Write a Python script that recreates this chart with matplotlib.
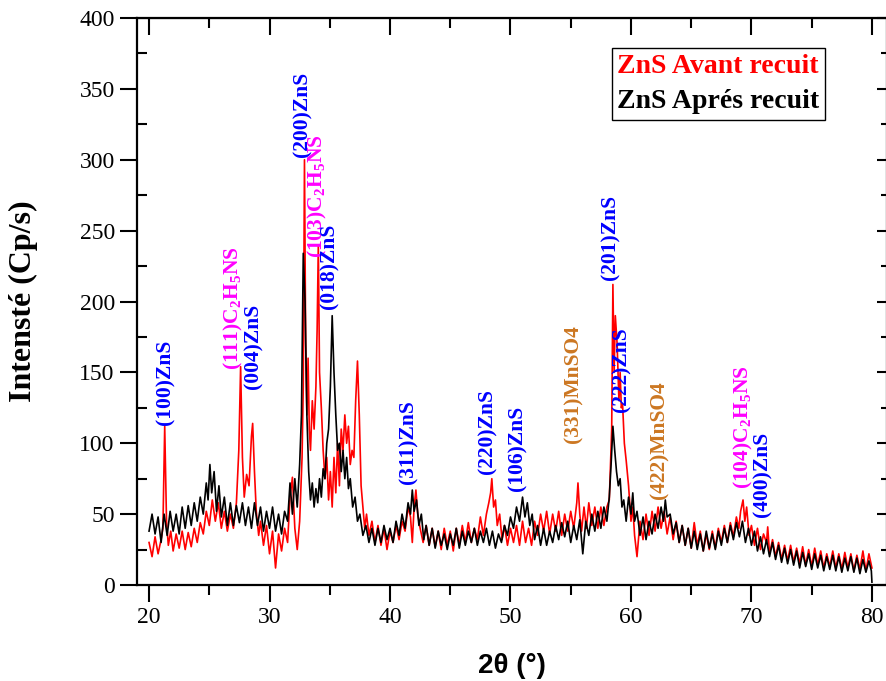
import matplotlib
matplotlib.use("Agg")
import matplotlib.pyplot as plt
from matplotlib.ticker import MultipleLocator

# ZnS avant recuit (rouge)
red_tt = [20.0, 20.25, 20.5, 20.75, 21.0, 21.15, 21.3, 21.45, 21.6, 21.8,
          22.0, 22.25, 22.5, 22.75, 23.0, 23.25, 23.5, 23.75, 24.0, 24.25,
          24.5, 24.75, 25.0, 25.25, 25.5, 25.75, 26.0, 26.25, 26.5, 26.75,
          27.0, 27.25, 27.45, 27.6, 27.75, 27.9, 28.1, 28.3, 28.5, 28.6,
          28.75, 28.9, 29.1, 29.25, 29.5, 29.75, 30.0, 30.25, 30.5, 30.75,
          31.0, 31.25, 31.5, 31.7, 31.9, 32.1, 32.3, 32.5, 32.7, 32.8,
          32.9, 33.0, 33.1, 33.2, 33.3, 33.4, 33.55, 33.7, 33.85, 33.95,
          34.05, 34.15, 34.3, 34.45, 34.6, 34.75, 34.9, 35.05, 35.2, 35.35,
          35.5, 35.65, 35.8, 35.95, 36.1, 36.25, 36.4, 36.55, 36.7, 36.85,
          37.0, 37.15, 37.3, 37.45, 37.6, 37.75, 37.9, 38.05, 38.25, 38.5,
          38.75, 39.0, 39.25, 39.5, 39.75, 40.0, 40.25, 40.5, 40.75, 41.0,
          41.25, 41.5, 41.7, 41.85, 42.0, 42.15, 42.3, 42.5, 42.75, 43.0,
          43.25, 43.5, 43.75, 44.0, 44.25, 44.5, 44.75, 45.0, 45.25, 45.5,
          45.75, 46.0, 46.25, 46.5, 46.75, 47.0, 47.25, 47.5, 47.75, 48.0,
          48.2, 48.35, 48.45, 48.6, 48.75, 48.9, 49.1, 49.3, 49.5, 49.75,
          50.0, 50.25, 50.5, 50.75, 51.0, 51.25, 51.5, 51.75, 52.0, 52.25,
          52.5, 52.75, 53.0, 53.25, 53.5, 53.75, 54.0, 54.25, 54.5, 54.75,
          55.0, 55.25, 55.5, 55.6, 55.75, 55.9, 56.1, 56.3, 56.5, 56.75,
          57.0, 57.25, 57.5, 57.75, 58.0, 58.2, 58.4, 58.5, 58.6, 58.7,
          58.85, 59.0, 59.1, 59.2, 59.3, 59.45, 59.6, 59.8, 60.0, 60.15,
          60.3, 60.5, 60.75, 61.0, 61.25, 61.5, 61.75, 62.0, 62.25, 62.5,
          62.75, 63.0, 63.25, 63.5, 63.75, 64.0, 64.25, 64.5, 64.75, 65.0,
          65.25, 65.5, 65.75, 66.0, 66.25, 66.5, 66.75, 67.0, 67.25, 67.5,
          67.75, 68.0, 68.25, 68.5, 68.75, 68.95, 69.1, 69.3, 69.45, 69.6,
          69.8, 70.0, 70.25, 70.5, 70.75, 71.0, 71.25, 71.35, 71.5, 71.75,
          72.0, 72.25, 72.5, 72.75, 73.0, 73.25, 73.5, 73.75, 74.0, 74.25,
          74.5, 74.75, 75.0, 75.25, 75.5, 75.75, 76.0, 76.25, 76.5, 76.75,
          77.0, 77.25, 77.5, 77.75, 78.0, 78.25, 78.5, 78.75, 79.0, 79.25,
          79.5, 79.75, 80.0]
red_int = [30, 20, 34, 22, 32, 40, 112, 45, 28, 38,
           24, 36, 26, 38, 25, 37, 27, 40, 30, 44,
           36, 52, 42, 60, 45, 58, 40, 52, 38, 50,
           40, 58, 95, 154, 90, 62, 78, 70, 105, 114,
           80, 52, 35, 45, 28, 42, 22, 38, 12, 36,
           24, 40, 30, 62, 76, 40, 25, 45, 90, 140,
           300, 170, 120, 160, 110, 95, 130, 110, 140, 180,
           240, 150, 125, 95, 75, 90, 60, 80, 55, 90,
           65, 100, 70, 110, 95, 120, 100, 112, 85, 95,
           90, 130, 158, 120, 70, 55, 40, 50, 35, 45,
           30, 42, 28, 40, 25, 38, 30, 42, 32, 45,
           38, 55, 48, 30, 55, 67, 50, 40, 30, 42,
           28, 40, 27, 38, 25, 40, 28, 38, 24, 40,
           28, 42, 30, 44, 30, 40, 32, 48, 35, 50,
           58, 65, 75, 55, 60, 42, 50, 32, 42, 28,
           40, 30, 42, 28, 45, 30, 40, 28, 45, 35,
           50, 38, 52, 36, 50, 38, 52, 35, 50, 38,
           52, 40, 58, 72, 50, 38, 55, 40, 58, 42,
           55, 40, 55, 42, 55, 60, 110, 212, 150, 190,
           170, 130, 150, 125, 128, 100, 88, 70, 45, 55,
           35, 20, 45, 32, 50, 35, 52, 38, 55, 40,
           52, 36, 48, 32, 45, 30, 42, 28, 40, 26,
           44, 28, 38, 24, 36, 25, 38, 26, 40, 30,
           42, 30, 44, 34, 48, 40, 52, 60, 45, 55,
           35, 42, 28, 40, 25, 36, 30, 41, 22, 32,
           20, 30, 18, 28, 17, 28, 16, 26, 15, 27,
           14, 25, 13, 26, 14, 24, 12, 22, 13, 24,
           12, 22, 11, 23, 12, 22, 10, 21, 11, 24,
           10, 22, 12]

# ZnS apres recuit (noir)
blk_tt = [20.0, 20.25, 20.5, 20.75, 21.0, 21.25, 21.5, 21.75, 22.0, 22.25,
          22.5, 22.75, 23.0, 23.25, 23.5, 23.75, 24.0, 24.25, 24.5, 24.75,
          24.9, 25.05, 25.2, 25.4, 25.6, 25.8, 26.0, 26.25, 26.5, 26.75,
          27.0, 27.25, 27.5, 27.75, 28.0, 28.25, 28.5, 28.75, 29.0, 29.25,
          29.5, 29.75, 30.0, 30.25, 30.5, 30.75, 31.0, 31.25, 31.5, 31.7,
          31.9, 32.1, 32.3, 32.5, 32.65, 32.8, 32.95, 33.1, 33.25, 33.4,
          33.55, 33.7, 33.85, 34.0, 34.15, 34.3, 34.45, 34.6, 34.75, 34.9,
          35.05, 35.2, 35.35, 35.5, 35.65, 35.8, 35.95, 36.1, 36.25, 36.4,
          36.55, 36.7, 36.9, 37.1, 37.3, 37.5, 37.75, 38.0, 38.25, 38.5,
          38.75, 39.0, 39.25, 39.5, 39.75, 40.0, 40.25, 40.5, 40.75, 41.0,
          41.25, 41.5, 41.7, 41.85, 42.0, 42.2, 42.4, 42.6, 42.8, 43.0,
          43.25, 43.5, 43.75, 44.0, 44.25, 44.5, 44.75, 45.0, 45.25, 45.5,
          45.75, 46.0, 46.25, 46.5, 46.75, 47.0, 47.25, 47.5, 47.75, 48.0,
          48.25, 48.5, 48.75, 49.0, 49.25, 49.5, 49.75, 50.0, 50.25, 50.5,
          50.75, 51.0, 51.2, 51.4, 51.6, 51.8, 52.0, 52.25, 52.5, 52.75,
          53.0, 53.25, 53.5, 53.75, 54.0, 54.25, 54.5, 54.75, 55.0, 55.25,
          55.5, 55.75, 56.0, 56.25, 56.5, 56.75, 57.0, 57.25, 57.5, 57.75,
          58.0, 58.2, 58.35, 58.5, 58.65, 58.8, 58.95, 59.1, 59.25, 59.4,
          59.6, 59.8, 60.0, 60.15, 60.3, 60.5, 60.75, 61.0, 61.25, 61.5,
          61.75, 62.0, 62.25, 62.5, 62.7, 62.85, 63.0, 63.25, 63.5, 63.75,
          64.0, 64.25, 64.5, 64.75, 65.0, 65.25, 65.5, 65.75, 66.0, 66.25,
          66.5, 66.75, 67.0, 67.25, 67.5, 67.75, 68.0, 68.25, 68.5, 68.75,
          69.0, 69.25, 69.5, 69.75, 70.0, 70.25, 70.5, 70.75, 71.0, 71.25,
          71.5, 71.75, 72.0, 72.25, 72.5, 72.75, 73.0, 73.25, 73.5, 73.75,
          74.0, 74.25, 74.5, 74.75, 75.0, 75.25, 75.5, 75.75, 76.0, 76.25,
          76.5, 76.75, 77.0, 77.25, 77.5, 77.75, 78.0, 78.25, 78.5, 78.75,
          79.0, 79.25, 79.5, 79.75, 79.95, 80.0]
blk_int = [38, 50, 36, 48, 30, 50, 35, 52, 38, 50,
           36, 55, 40, 56, 42, 58, 45, 62, 50, 72,
           60, 85, 65, 80, 52, 70, 48, 62, 42, 58,
           42, 56, 44, 58, 42, 55, 40, 58, 42, 55,
           38, 52, 40, 55, 38, 50, 36, 52, 45, 72,
           50, 75, 55, 85, 120, 234, 200, 120, 80, 60,
           72, 55, 68, 58, 75, 62, 82, 75, 100, 110,
           140, 190, 150, 120, 95, 100, 80, 95, 75, 90,
           68, 75, 55, 62, 45, 50, 35, 42, 30, 40,
           28, 40, 30, 42, 32, 40, 30, 45, 35, 50,
           40, 58, 50, 67, 52, 60, 42, 50, 32, 42,
           28, 40, 26, 38, 28, 36, 25, 36, 28, 40,
           26, 38, 28, 38, 30, 40, 28, 38, 30, 40,
           28, 38, 26, 36, 30, 42, 35, 48, 40, 55,
           45, 62, 48, 58, 42, 50, 32, 42, 28, 40,
           28, 38, 30, 42, 32, 44, 34, 45, 30, 42,
           32, 46, 22, 45, 35, 50, 38, 52, 40, 55,
           45, 62, 85, 112, 95, 80, 70, 75, 55, 60,
           45, 62, 50, 65, 45, 52, 35, 48, 32, 45,
           36, 50, 40, 55, 45, 60, 48, 50, 36, 44,
           30, 42, 28, 40, 26, 38, 25, 36, 24, 38,
           26, 36, 25, 38, 28, 40, 30, 42, 32, 44,
           34, 45, 30, 40, 28, 38, 24, 34, 22, 32,
           20, 30, 18, 28, 16, 26, 15, 25, 14, 24,
           12, 23, 13, 22, 11, 22, 12, 21, 10, 20,
           11, 21, 10, 20, 9, 19, 10, 20, 9, 19,
           8, 18, 9, 17, 10, 2]

# indexation des pics : (texte, 2theta, intensite du bas du texte, couleur)
blue = '#0000FF'
mag = '#FF00FF'
orange = '#CC7722'
peak_labels = ['(100)ZnS', '(111)C$_2$H$_5$NS', '(004)ZnS', '(200)ZnS',
               '(103)C$_2$H$_5$NS', '(018)ZnS', '(311)ZnS', '(220)ZnS',
               '(106)ZnS', '(331)MnSO4', '(201)ZnS', '(222)ZnS',
               '(422)MnSO4', '(104)C$_2$H$_5$NS', '(400)ZnS']
peak_tt = [21.33, 26.97, 28.7, 32.7, 34.0, 35.0, 41.5, 48.1,
           50.6, 55.2, 58.3, 59.25, 62.4, 69.3, 70.9]
peak_y = [113, 152, 138, 302, 231, 195, 71, 78,
          66, 100, 215, 122, 61, 68, 48]
peak_col = [blue, mag, blue, blue, mag, blue, blue, blue,
            blue, orange, blue, blue, orange, mag, blue]

plt.rcParams['font.family'] = 'Liberation Serif'
plt.rcParams['mathtext.fontset'] = 'custom'
plt.rcParams['mathtext.bf'] = 'Liberation Serif:bold'
plt.rcParams['mathtext.rm'] = 'Liberation Serif:bold'
plt.rcParams['mathtext.default'] = 'bf'

fig = plt.figure(figsize=(8.86, 6.81), dpi=100)
ax = fig.add_axes([137/886, 96/681, 750/886, 567/681])

ax.plot(red_tt, red_int, color='red', lw=1.2, label='ZnS Avant recuit')
ax.plot(blk_tt, blk_int, color='black', lw=1.2, label='ZnS Aprés recuit')

for t, x, y, c in zip(peak_labels, peak_tt, peak_y, peak_col):
    ax.text(x, y, t, rotation=90, color=c, fontsize=15.5, fontweight='bold',
            ha='center', va='bottom')

ax.set_xlim(19.0, 81.25)
ax.set_ylim(0, 400)
ax.xaxis.set_major_locator(MultipleLocator(10))
ax.xaxis.set_minor_locator(MultipleLocator(5))
ax.yaxis.set_major_locator(MultipleLocator(50))
ax.yaxis.set_minor_locator(MultipleLocator(25))
ax.tick_params(axis='x', which='major', direction='out', length=12, width=1.5, labelsize=17, pad=4)
ax.tick_params(axis='x', which='minor', direction='out', length=7, width=1.5)
ax.tick_params(axis='y', which='major', direction='out', length=12, width=1.5, labelsize=17, pad=4)
ax.tick_params(axis='y', which='minor', direction='in', length=7, width=1.5)
for s in ax.spines.values():
    s.set_linewidth(1.6)

top = ax.secondary_xaxis('top')
top.xaxis.set_major_locator(MultipleLocator(10))
top.xaxis.set_minor_locator(MultipleLocator(5))
top.tick_params(which='major', direction='in', length=12, width=1.5, labeltop=False)
top.tick_params(which='minor', direction='in', length=7, width=1.5)
rgt = ax.secondary_yaxis('right')
rgt.yaxis.set_major_locator(MultipleLocator(50))
rgt.yaxis.set_minor_locator(MultipleLocator(25))
rgt.tick_params(which='major', direction='in', length=7, width=1.5, labelright=False)
rgt.tick_params(which='minor', direction='in', length=4, width=1.5)

ax.set_ylabel('Intensté (Cp/s)', fontsize=23, fontweight='bold', labelpad=30)
ax.set_xlabel('2θ (°)', fontsize=20, fontweight='bold', family='Liberation Sans', labelpad=18)

leg = ax.legend(loc='upper left', bbox_to_anchor=(0.633, 0.947), borderaxespad=0,
                handlelength=0, handletextpad=0, fancybox=False, edgecolor='black',
                framealpha=1, prop={'weight': 'bold', 'size': 20}, borderpad=0.2,
                labelspacing=0.35)
leg.get_frame().set_linewidth(1.0)
for h in leg.legend_handles:
    h.set_visible(False)
for txt, c in zip(leg.get_texts(), ['red', 'black']):
    txt.set_color(c)

fig.savefig('out.png', dpi=100)
